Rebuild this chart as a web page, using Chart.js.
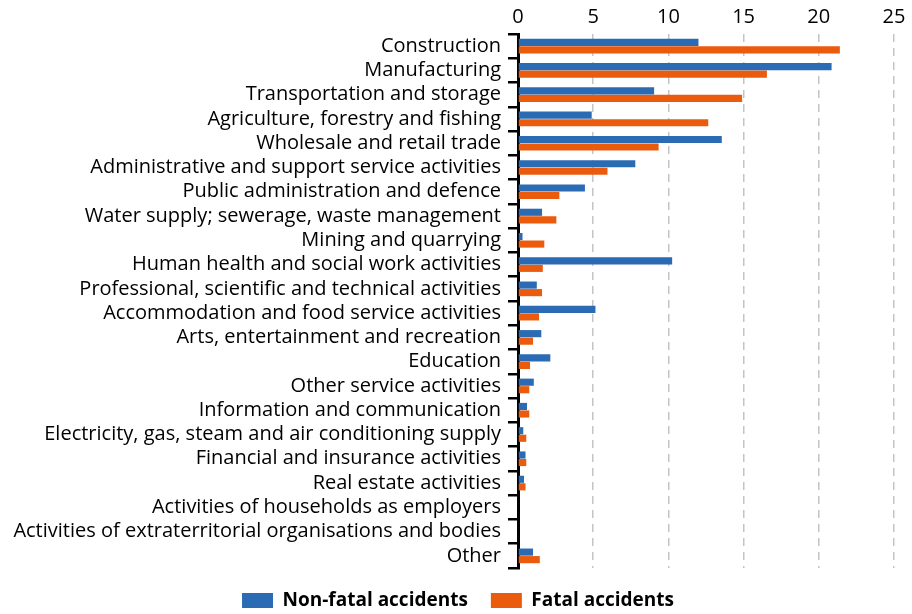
<!DOCTYPE html>
<html>
<head>
<meta charset="utf-8">
<script src="https://cdn.jsdelivr.net/npm/chart.js@4/dist/chart.umd.min.js"></script>
<style>
  html, body { margin: 0; padding: 0; background: #fff; }
  #wrap { width: 912px; height: 614px; }
</style>
</head>
<body>
<div id="wrap"><canvas id="chart"></canvas></div>
<script>
// Accidents at work by sector, share of total (%)
const categories = [
  'Construction',
  'Manufacturing',
  'Transportation and storage',
  'Agriculture, forestry and fishing',
  'Wholesale and retail trade',
  'Administrative and support service activities',
  'Public administration and defence',
  'Water supply; sewerage, waste management',
  'Mining and quarrying',
  'Human health and social work activities',
  'Professional, scientific and technical activities',
  'Accommodation and food service activities',
  'Arts, entertainment and recreation',
  'Education',
  'Other service activities',
  'Information and communication',
  'Electricity, gas, steam and air conditioning supply',
  'Financial and insurance activities',
  'Real estate activities',
  'Activities of households as employers',
  'Activities of extraterritorial organisations and bodies',
  'Other'
];

const nonFatal = [12.0, 20.85, 9.05, 4.9, 13.55, 7.8, 4.45, 1.6, 0.3, 10.25, 1.25, 5.15, 1.55, 2.15, 1.05, 0.6, 0.35, 0.5, 0.4, 0.05, 0.0, 1.0];
const fatal    = [21.4, 16.55, 14.9, 12.65, 9.35, 5.95, 2.75, 2.55, 1.75, 1.65, 1.6, 1.4, 1.0, 0.8, 0.75, 0.75, 0.55, 0.55, 0.5, 0.05, 0.0, 1.45];

const xTicks = [0, 5, 10, 15, 20, 25];

const BLUE = '#2b6bb3';
const ORANGE = '#eb5b0e';

Chart.defaults.font.family = '"Open Sans", sans-serif';
Chart.defaults.color = '#000';

// nudge the legend a bit to the right so it sits under the plot like the original
const legendShift = {
  id: 'legendShift',
  afterLayout(chart) {
    chart.legend.left += 11;
    chart.legend.right += 11;
  }
};

new Chart(document.getElementById('chart'), {
  type: 'bar',
  data: {
    labels: categories,
    datasets: [
      { label: 'Non-fatal accidents', data: nonFatal, backgroundColor: BLUE },
      { label: 'Fatal accidents', data: fatal, backgroundColor: ORANGE }
    ]
  },
  plugins: [legendShift],
  options: {
    indexAxis: 'y',
    responsive: true,
    maintainAspectRatio: false,
    animation: false,
    datasets: {
      bar: { categoryPercentage: 0.62, barPercentage: 0.95 }
    },
    // legend sits close to the bottom edge, so the bottom padding is pulled in
    layout: { padding: { left: 0, right: 18, top: 0, bottom: -6 } },
    plugins: {
      tooltip: { enabled: false },
      legend: {
        position: 'bottom',
        labels: {
          boxWidth: 31,
          boxHeight: 15,
          padding: 23,
          font: { size: 19, weight: 'bold' }
        }
      }
    },
    scales: {
      x: {
        position: 'top',
        min: 0,
        max: 25,
        afterBuildTicks: axis => { axis.ticks = xTicks.map(v => ({ value: v })); },
        grid: {
          color: '#c4c4c4',
          lineWidth: 1.5,
          drawTicks: false
        },
        border: { display: false, dash: [8, 6] },
        ticks: { padding: 5, font: { size: 20 } }
      },
      y: {
        afterFit: axis => { axis.width = 518; },
        border: { display: true, color: '#000', width: 3 },
        grid: {
          offset: true,
          drawOnChartArea: false,
          color: '#000',
          lineWidth: 2.5,
          tickLength: 10
        },
        ticks: { padding: 7, font: { size: 20 }, autoSkip: false }
      }
    }
  }
});
</script>
</body>
</html>
